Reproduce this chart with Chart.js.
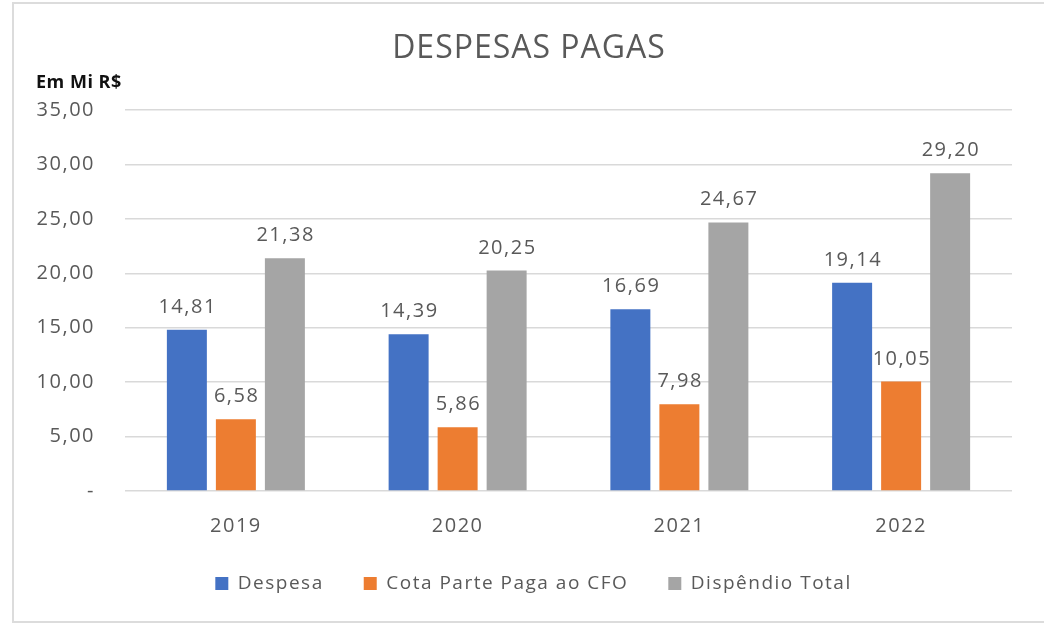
<!DOCTYPE html>
<html>
<head>
<meta charset="utf-8">
<script src="https://cdn.jsdelivr.net/npm/chart.js@4/dist/chart.umd.min.js"></script>
<style>
  html, body { margin: 0; padding: 0; background: #ffffff; width: 1044px; height: 624px; overflow: hidden; }
  #frame { position: absolute; left: 12px; top: 2px; width: 1100px; height: 617px; border: 2px solid #dcdcdc; box-sizing: content-box; }
  #wrap { position: absolute; left: 0; top: 0; width: 1044px; height: 624px; }
</style>
</head>
<body>
<div id="frame"></div>
<div id="wrap"><canvas id="c" width="1044" height="624"></canvas></div>
<script>
const categories = ['2019', '2020', '2021', '2022'];
const despesa = [14.81, 14.39, 16.69, 19.14];
const cotaParte = [6.58, 5.86, 7.98, 10.05];
const dispendioTotal = [21.38, 20.25, 24.67, 29.20];
const seriesNames = ['Despesa', 'Cota Parte Paga ao CFO', 'Dispêndio Total'];
const yTickLabels = ['-', '5,00', '10,00', '15,00', '20,00', '25,00', '30,00', '35,00'];
const chartTitle = 'DESPESAS PAGAS';
const unitLabel = 'Em Mi R$';

const FONT = "'Open Sans', 'Noto Sans', sans-serif";
const TEXT = '#595959';
const SPACING = '1.5px';

const fmt = v => v.toFixed(2).replace('.', ',');

const spacingPlugin = {
  id: 'spacing',
  beforeUpdate(chart) { chart.ctx.letterSpacing = SPACING; },
  beforeDraw(chart) { chart.ctx.letterSpacing = SPACING; },
  afterLayout(chart) {
    // centre the legend under the frame rather than the canvas
    const lg = chart.legend;
    if (lg) {
      lg.left = 55;
      lg.right = chart.chartArea.right;
      lg.width = lg.right - lg.left;
    }
  }
};

const textPlugin = {
  id: 'texts',
  afterDatasetsDraw(chart) {
    const ctx = chart.ctx;
    ctx.save();
    ctx.fillStyle = TEXT;
    ctx.font = "20px " + FONT;
    ctx.textAlign = 'center';
    ctx.textBaseline = 'alphabetic';
    chart.data.datasets.forEach((ds, i) => {
      const meta = chart.getDatasetMeta(i);
      meta.data.forEach((bar, j) => {
        ctx.fillText(fmt(ds.data[j]), bar.x + 0.75, bar.y - 17);
      });
    });
    ctx.restore();
  },
  afterDraw(chart) {
    const ctx = chart.ctx;
    ctx.save();
    ctx.fillStyle = TEXT;
    ctx.letterSpacing = '1px';
    ctx.font = "32px " + FONT;
    ctx.textAlign = 'center';
    ctx.textBaseline = 'alphabetic';
    ctx.fillText(chartTitle, 529, 58);
    ctx.fillStyle = '#111111';
    ctx.font = "bold 18px " + FONT;
    ctx.letterSpacing = '0.5px';
    ctx.textAlign = 'left';
    ctx.fillText(unitLabel, 36, 88);
    ctx.restore();
  }
};

new Chart(document.getElementById('c'), {
  type: 'bar',
  data: {
    labels: categories,
    datasets: [
      { label: seriesNames[0], data: despesa, backgroundColor: '#4472C4' },
      { label: seriesNames[1], data: cotaParte, backgroundColor: '#ED7D31' },
      { label: seriesNames[2], data: dispendioTotal, backgroundColor: '#A5A5A5' }
    ]
  },
  options: {
    responsive: false,
    animation: false,
    devicePixelRatio: 1,
    layout: { padding: { top: 110, right: 32, bottom: 21, left: 0 } },
    datasets: {
      bar: { categoryPercentage: 0.663, barPercentage: 0.816, borderWidth: 0 }
    },
    plugins: {
      title: { display: false },
      tooltip: { enabled: false },
      legend: {
        position: 'bottom',
        labels: {
          boxWidth: 13, boxHeight: 13, padding: 40,
          color: TEXT,
          font: { family: FONT, size: 19 }
        }
      }
    },
    scales: {
      x: {
        grid: { display: false, drawTicks: false },
        border: { display: false },
        ticks: { color: TEXT, font: { family: FONT, size: 20 }, padding: 23 },
        afterFit(s) { s.height = 43; }
      },
      y: {
        min: 0, max: 35,
        ticks: {
          stepSize: 5, color: TEXT, padding: 30,
          font: { family: FONT, size: 20 },
          callback: (v, i) => yTickLabels[i]
        },
        grid: { color: '#d9d9d9', lineWidth: 1.5, drawTicks: false },
        border: { display: false },
        afterFit(s) { s.width = 125; }
      }
    }
  },
  plugins: [spacingPlugin, textPlugin]
});
</script>
</body>
</html>
